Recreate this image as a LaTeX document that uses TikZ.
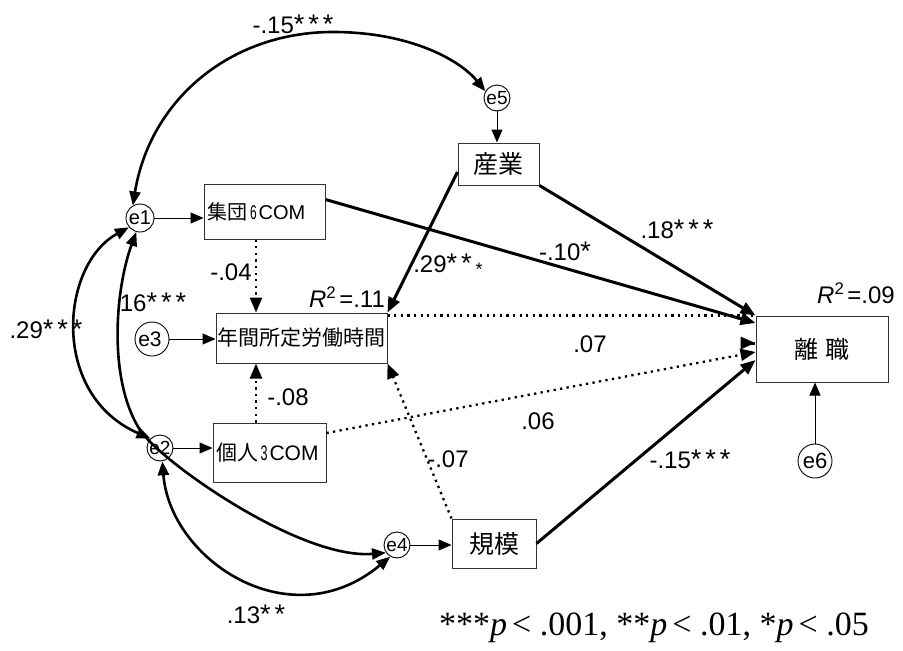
\documentclass[tikz,border=0pt]{standalone}
\usepackage{fontspec}
\usepackage{graphicx}
\setmainfont{Liberation Sans}
\newfontfamily\jpfont{Noto Sans CJK JP}
\newfontfamily\tmfont{Liberation Serif}
\usetikzlibrary{arrows.meta,calc}
\newcommand{\stx}{{\fontsize{27}{27}\selectfont *}\kern4pt}
\newcommand{\stl}{{\fontsize{27}{27}\selectfont *}}
\begin{document}
\begin{tikzpicture}[x=1pt,y=-1pt,
  box/.style={draw=black!80, line width=1pt, inner sep=0pt, fill=white},
  err/.style={draw=black, circle, line width=0.9pt, inner sep=0pt, fill=white, font=\fontsize{20}{20}\selectfont},
  lab/.style={inner sep=0pt, font=\fontsize{24}{24}\selectfont},
  thinarr/.style={line width=1pt, -{Triangle[length=13pt,width=11pt]}},
  patharr/.style={line width=3pt, -{Triangle[length=15pt,width=12pt]}},
  dotarr/.style={line width=2.3pt, dash pattern=on 2.3pt off 4.3pt, -{Triangle[length=15pt,width=12pt]}},
  dotline/.style={line width=2.3pt, dash pattern=on 2.3pt off 4.3pt},
  cov/.style={line width=2.6pt, {Triangle[length=14pt,width=11pt]}-{Triangle[length=14pt,width=11pt]}},
]
\useasboundingbox[fill=white] (0,0) rectangle (903,651);

% boxes
\node[box, minimum width=121pt, minimum height=55pt, text width=115pt, align=left,
      font=\fontsize{20}{20}\selectfont] (shuudan) at (264.5,211.5)
      {{\jpfont 集団}\kern3pt\scalebox{0.6}[1]{6}\kern2pt COM};
\node[box, minimum width=81pt, minimum height=42pt, font=\fontsize{25}{25}\selectfont] (sangyo) at (498.5,164) {\jpfont 産業};
\node[box, minimum width=171pt, minimum height=50pt, font=\fontsize{21}{21}\selectfont] (nenkan) at (301.5,338) {\jpfont 年間所定労働時間};
\node[box, minimum width=113pt, minimum height=59pt, font=\fontsize{21}{21}\selectfont] (kojin) at (269.5,452.5)
      {{\jpfont 個人}\kern2pt\scalebox{0.6}[1]{3}\kern2pt COM\kern4pt};
\node[box, minimum width=84pt, minimum height=49pt, font=\fontsize{25}{25}\selectfont] (kibo) at (494,543.5) {\jpfont 規模};
\node[box, minimum width=132pt, minimum height=66pt, font=\fontsize{24}{24}\selectfont] (rishoku) at (822,349)
      {{\jpfont 離\hspace{7pt}職}\hspace{20pt}};

% error terms
\node[err, minimum size=28pt] (e1) at (140,218) {e1};
\node[err, minimum size=26pt, font=\fontsize{19}{19}\selectfont] (e2) at (160,448) {e2};
\node[err, minimum size=34pt, font=\fontsize{21}{21}\selectfont] (e3) at (152,339) {e3\kern4pt};
\node[err, minimum size=26pt, font=\fontsize{19}{19}\selectfont] (e4) at (397,545) {e4};
\node[err, minimum size=26pt, font=\fontsize{19}{19}\selectfont] (e5) at (497,98) {e5};
\node[err, minimum size=34pt, font=\fontsize{22}{22}\selectfont] (e6) at (815,461) {e6};

% error arrows
\draw[thinarr] (e1) -- (e1 -| shuudan.west);
\draw[thinarr] (e3) -- (e3 -| nenkan.west);
\draw[thinarr] (e2) -- (e2 -| kojin.west);
\draw[thinarr] (e4) -- (e4 -| kibo.west);
\draw[thinarr] (e5) -- (e5 |- sangyo.north);
\draw[thinarr] (e6) -- (e6 |- rishoku.south);

% paths
\draw[dotarr] (shuudan.south -| 256,0) -- (nenkan.north -| 256,0);
\draw[dotarr] (kojin.north -| 256,0) -- (nenkan.south -| 256,0);
\draw[patharr] ([yshift=-8pt]sangyo.west) -- (nenkan.north east);
\draw[dotarr] (kibo.north west) -- (nenkan.south east);
\draw[patharr] ([yshift=12pt]shuudan.east) -- ([yshift=26pt]rishoku.west);
\draw[patharr] (sangyo.south east) -- (rishoku.north west);
\draw[dotline] ([yshift=-3pt]nenkan.north east) -- (rishoku.north west);
\coordinate (tipA) at ([yshift=6pt]rishoku.west);
\draw[patharr] ([xshift=-1pt]tipA) -- (tipA);
\draw[dotarr] ([yshift=19.5pt]kojin.east) -- ([yshift=-3pt]rishoku.west);
\draw[patharr] (kibo.east) -- ([yshift=-11pt]rishoku.west);

% covariances
\coordinate (topA) at (333,32);
\draw[cov] (e1.120) .. controls (150,100) and (230,32) .. (topA) .. controls (410,32) and (460,60) .. (e5.150);
\draw[cov] (e1.220) .. controls (60,265) and (50,395) .. (e2.135);
\coordinate (midB) at (140,430);
\draw[cov] (e1.255) .. controls (115,290) and (108,380) .. (midB) .. controls (160,461) and (300,560) .. (e4.215);
\draw[cov] (e2.280) .. controls (170,560) and (290,640) .. (e4.240);

% labels
\node[lab] (l1) at (293,24) {-.15\stx\stx\stl};
\node[lab] (l2) at (46,329) {.29\stx\stx\stl};
\node[lab] (l3) at (153,302) {16\stx\stx\stl};
\node[lab] (l4) at (231,272) {-.04};
\node[lab] (l5) at (448,265) {.29\stx\stx\raisebox{-3pt}{\fontsize{18}{18}\selectfont *}};
\node[lab] (l6) at (347,297) {\textit{R}\textsuperscript{2}\kern3pt=.11};
\node[lab] (l7) at (288,397) {-.08};
\node[lab] (l8) at (448,459) {-.07};
\node[lab] (l9) at (538,421) {.06};
\node[lab] (l10) at (590,344) {.07};
\node[lab] (l11) at (565,251) {-.10\stl};
\node[lab] (l12) at (677,229) {.18\stx\stx\stl};
\node[lab] (l13) at (856,293) {\textit{R}\textsuperscript{2}\kern3pt=.09};
\node[lab] (l14) at (690,459) {-.15\stx\stx\stl};
\node[lab] (l15) at (256,614) {.13\stx\stl};
\node[inner sep=0pt, font=\tmfont\fontsize{34}{34}\selectfont] (note) at (654,628)
  {***\textit{p}\kern5pt< .001, **\textit{p}\kern5pt< .01, *\textit{p}\kern5pt< .05};
\end{tikzpicture}
\end{document}
